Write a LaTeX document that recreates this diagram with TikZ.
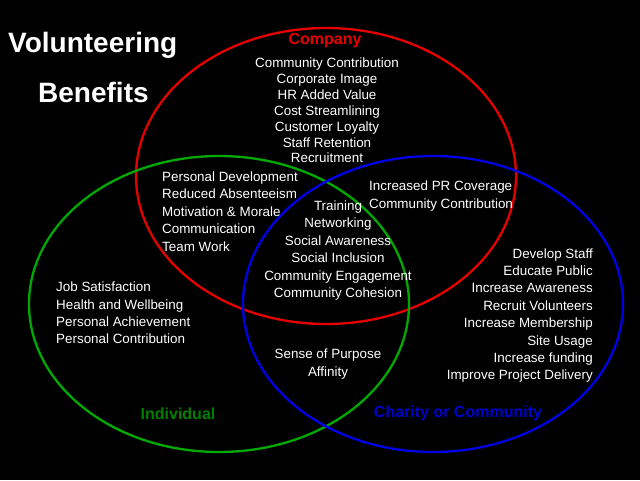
\documentclass[tikz,border=0pt]{standalone}
\usepackage{fontspec}
\setmainfont{Liberation Sans}
\definecolor{vred}{RGB}{230,0,0}
\definecolor{vgreen}{RGB}{0,170,0}
\definecolor{vblue}{RGB}{0,0,230}
\definecolor{tgreen}{RGB}{0,128,0}
\definecolor{tblue}{RGB}{0,0,204}
\begin{document}
\begin{tikzpicture}[x=1pt,y=-1pt,
  ring/.style={line width=2.3pt},
  title/.style={text=white,font=\fontsize{28}{32}\selectfont\bfseries,inner sep=0pt},
  setname/.style={font=\fontsize{16}{18}\selectfont\bfseries,inner sep=0pt},
  items/.style={text=white,font=\fontsize{13.4}{17.4}\selectfont,inner sep=0pt},
  itemsc/.style={items,font=\fontsize{13.4}{15.9}\selectfont}]
\fill[black] (0,0) rectangle (640,480);
\useasboundingbox (0,0) rectangle (640,480);
\draw[ring,vred]   (326,176) ellipse [x radius=190pt, y radius=148pt];
\draw[ring,vgreen] (219,304) ellipse [x radius=190pt, y radius=148pt];
\draw[ring,vblue]  (433,304) ellipse [x radius=190pt, y radius=148pt];
\node[title,anchor=base west] (t1) at (8,52) {Volunteering};
\node[title,anchor=base west] (t2) at (38,102) {Benefits};
\node[setname,text=vred] (company) at (325,41) {Company};
\node[setname,text=tgreen] (individual) at (178,414) {Individual};
\node[setname,text=tblue] (charity) at (458,413) {Charity or Community};
\node[itemsc,align=center] (c) at (327,110.5) {Community Contribution\\Corporate Image\\HR Added Value\\Cost Streamlining\\Customer Loyalty\\Staff Retention\\Recruitment};
\node[items,align=left,anchor=west] (ci) at (162,211.5) {Personal Development\\Reduced Absenteeism\\Motivation \& Morale\\Communication\\Team Work};
\node[items,align=center] (all) at (338,250.5) {Training\\Networking\\Social Awareness\\Social Inclusion\\Community Engagement\\Community Cohesion};
\node[items,align=left,anchor=west] (cc) at (369,196) {Increased PR Coverage\\Community Contribution};
\node[items,align=left,anchor=west] (ind) at (56,313) {Job Satisfaction\\Health and Wellbeing\\Personal Achievement\\Personal Contribution};
\node[items,align=center] (ic) at (328,364) {Sense of Purpose\\Affinity};
\node[items,align=right,anchor=east] (ch) at (593,315.5) {Develop Staff\\Educate Public\\Increase Awareness\\Recruit Volunteers\\Increase Membership\\Site Usage\\Increase funding\\Improve Project Delivery};
\end{tikzpicture}
\end{document}
